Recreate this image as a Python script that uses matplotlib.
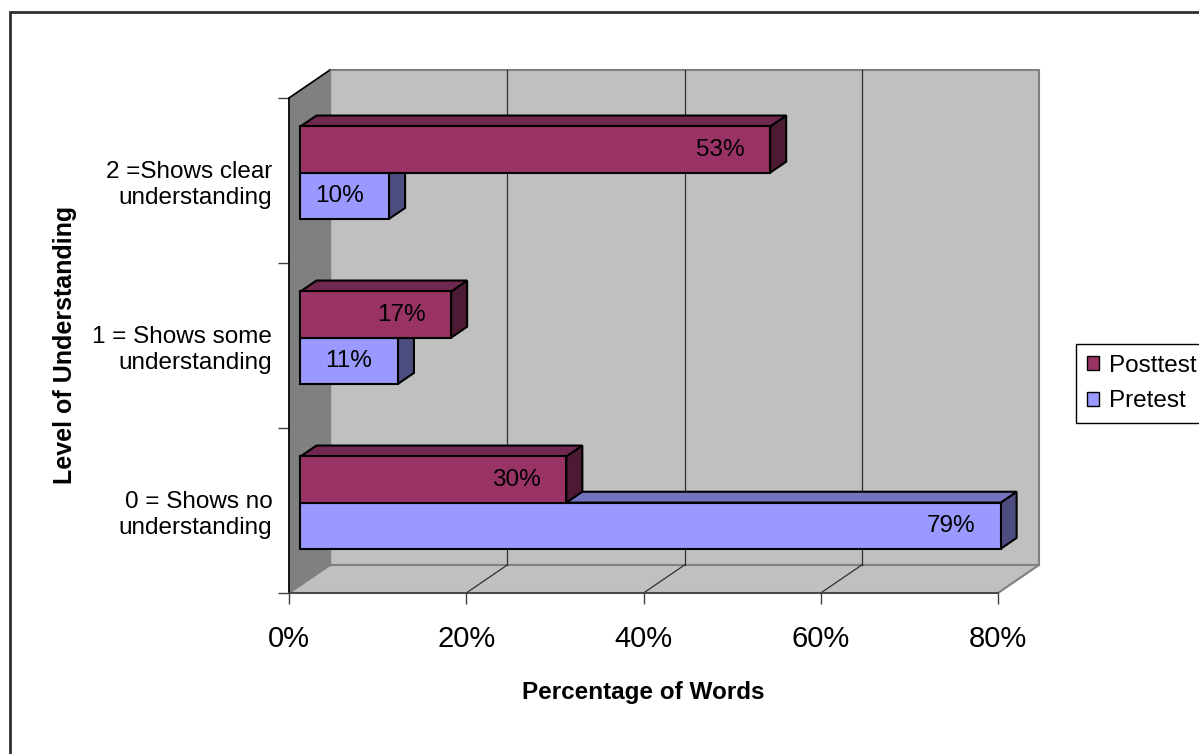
import matplotlib.pyplot as plt
from matplotlib.patches import Polygon, Rectangle

plt.rcParams['font.family'] = ['Liberation Sans', 'DejaVu Sans']

categories = ['0 = Shows no\nunderstanding', '1 = Shows some\nunderstanding',
              '2 =Shows clear\nunderstanding']
pretest = [79, 11, 10]
posttest = [30, 17, 53]
series = ['Posttest', 'Pretest']
xticks = [0, 20, 40, 60, 80]

W, H = 1199, 754
fig = plt.figure(figsize=(W / 100, H / 100), dpi=100)
fig.patch.set_facecolor('white')

# front plane of the plot area in pixels
x0, x1, ytop, ybot = 289, 998, 98, 593
ax = fig.add_axes([x0 / W, 1 - ybot / H, (x1 - x0) / W, (ybot - ytop) / H])
ax.set_xlim(0, 80)
ax.set_ylim(0, 3)
ax.set_facecolor('none')

# depth offset (front -> back wall) in data units
DX = 41 / ((x1 - x0) / 80)
DY = 28 / ((ybot - ytop) / 3)


def proj(x, y, d):
    return (x + d * DX, y + d * DY)


def poly(pts, fc, ec, lw=1.0, z=1):
    ax.add_patch(Polygon(pts, closed=True, facecolor=fc, edgecolor=ec,
                         linewidth=lw, clip_on=False, zorder=z))


# walls and floor
poly([proj(0, 0, 1), proj(80, 0, 1), proj(80, 3, 1), proj(0, 3, 1)],
     '#C0C0C0', '#808080', 1.5)
poly([proj(0, 0, 0), proj(0, 0, 1), proj(0, 3, 1), proj(0, 3, 0)],
     '#808080', '#808080', 1.0)
poly([proj(0, 0, 0), proj(80, 0, 0), proj(80, 0, 1), proj(0, 0, 1)],
     '#C0C0C0', '#808080', 1.5)
# left wall outline
ax.plot(*zip(proj(0, 3, 0), proj(0, 3, 1)), color='black', lw=1.2,
        clip_on=False, zorder=1.5)
ax.plot(*zip(proj(0, 0, 1), proj(0, 3, 1)), color='#808080', lw=1.0,
        clip_on=False, zorder=1.5)

# gridlines on back wall and floor
for t in xticks[1:-1]:
    ax.plot(*zip(proj(t, 0, 1), proj(t, 3, 1)), color='#303030', lw=0.9,
            clip_on=False, zorder=1.5)
    ax.plot(*zip(proj(t, 0, 0), proj(t, 0, 1)), color='#303030', lw=0.9,
            clip_on=False, zorder=1.5)

# 3D bars
d0, d1 = 0.28, 0.67
bh = 0.28
styles = {
    'Posttest': ('#993366', '#702850', '#4D1A33'),
    'Pretest': ('#9999FF', '#7373BF', '#4D4D80'),
}


def bar3d(yb, v, name):
    front, top, side = styles[name]
    fx, fy = proj(0, yb, d0)
    ex, _ = proj(v, yb, d0)
    poly([proj(v, yb, d0), proj(v, yb + bh, d0), proj(v, yb + bh, d1),
          proj(v, yb, d1)], side, 'black', 1.5, 3)
    poly([proj(0, yb + bh, d0), proj(v, yb + bh, d0), proj(v, yb + bh, d1),
          proj(0, yb + bh, d1)], top, 'black', 1.5, 3)
    ax.add_patch(Rectangle((fx, fy), v, bh, facecolor=front,
                           edgecolor='black', linewidth=1.5, clip_on=False,
                           zorder=3))
    ax.text(ex - 2.9, fy + bh / 2, f'{v}%', ha='right', va='center',
            fontsize=17.5, color='black', zorder=4)


for i in range(len(categories)):
    yc = i + 0.5
    bar3d(yc - bh, pretest[i], 'Pretest')
    bar3d(yc, posttest[i], 'Posttest')

# axes
for s in ['top', 'right']:
    ax.spines[s].set_visible(False)
ax.spines['bottom'].set_color('#404040')
ax.spines['left'].set_color('black')
ax.spines['bottom'].set_linewidth(1.2)
ax.spines['left'].set_linewidth(1.2)
ax.set_xticks(xticks)
ax.set_xticklabels([f'{t}%' for t in xticks], fontsize=21)
ax.tick_params(axis='x', direction='out', length=8, width=1,
               color='#404040', pad=15)
ax.set_yticks([0, 1, 2, 3])
ax.set_yticklabels([])
ax.set_yticks([0.5, 1.5, 2.5], minor=True)
ax.set_yticklabels(categories, minor=True, fontsize=17.5, ha='right',
                   linespacing=1.25)
ax.tick_params(axis='y', which='major', direction='out', length=8,
               width=1, color='#404040')
ax.tick_params(axis='y', which='minor', length=0, pad=12)

ax.set_xlabel('Percentage of Words', fontsize=17.5, fontweight='bold',
              labelpad=20)
fig.text(65 / W, 1 - 345 / H, 'Level of Understanding', rotation=90,
         ha='center', va='center', fontsize=18, fontweight='bold')

# legend
handles = [Rectangle((0, 0), 1, 1, facecolor=styles[n][0], edgecolor='black')
           for n in series]
fig.legend(handles, series, loc='upper left',
           bbox_to_anchor=(1076 / W, 1 - 344 / H), fontsize=17.5,
           frameon=True, fancybox=False, edgecolor='black',
           handlelength=0.5, handleheight=0.5, handletextpad=0.4,
           borderpad=0.45, borderaxespad=0, labelspacing=0.55, framealpha=1)

# outer chart frame
fig.patches.append(Rectangle((10 / W, -0.1), 1.2, 1.1 - 12 / H,
                             transform=fig.transFigure, fill=False,
                             edgecolor='#303030', linewidth=2))

fig.savefig('out.png', dpi=100)
